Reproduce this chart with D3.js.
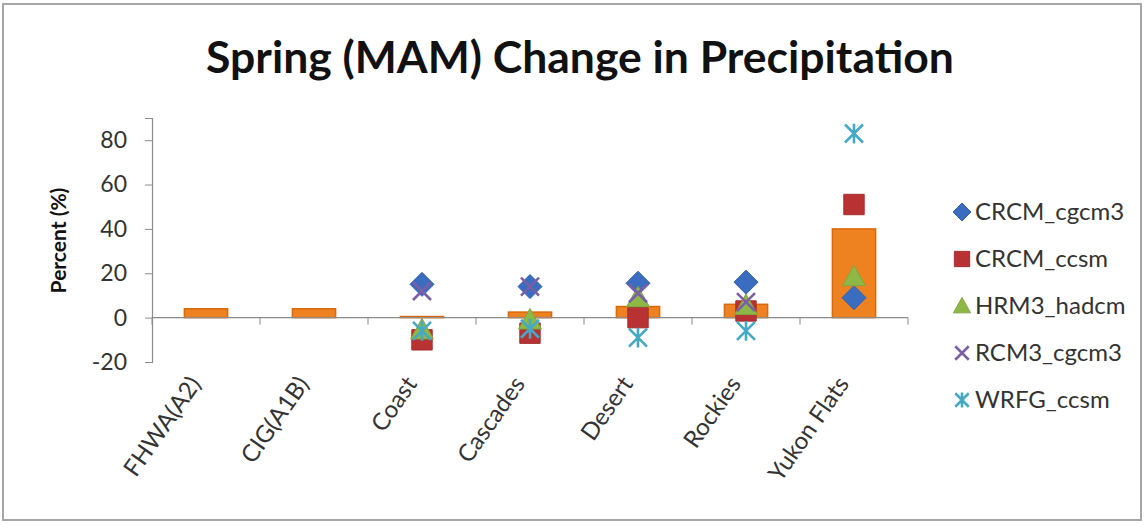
<!DOCTYPE html>
<html>
<head>
<meta charset="utf-8">
<script src="https://cdn.jsdelivr.net/npm/d3@7"></script>
<style>
  html, body { margin: 0; padding: 0; background: #fff; }
  svg { display: block; }
  text { font-family: Lato, "Open Sans", sans-serif; }
</style>
</head>
<body>
<svg id="chart" width="1146" height="525"></svg>
<script>
// ---------- data ----------
const categories = ["FHWA(A2)", "CIG(A1B)", "Coast", "Cascades", "Desert", "Rockies", "Yukon Flats"];
const barValues = [4, 4, 0.5, 2.5, 5, 6, 40];
const seriesNames = ["CRCM_cgcm3", "CRCM_ccsm", "HRM3_hadcm", "RCM3_cgcm3", "WRFG_ccsm"];
const crcmCgcm3 = [null, null, 15, 14, 15.5, 16, 9];
const crcmCcsm  = [null, null, -10, -7, 0, 3, 51];
const hrm3Hadcm = [null, null, -5.5, -1, 9, 5.5, 18.5];
const rcm3Cgcm3 = [null, null, 12, 14, 11, 7, null];
const wrfgCcsm  = [null, null, -6, -5, -9, -6, 83];
const yTicks = [-20, 0, 20, 40, 60, 80];
const yDomain = [-20, 90];
const titleText = "Spring (MAM) Change in Precipitation";
const yTitle = "Percent (%)";

const seriesValues = [crcmCgcm3, crcmCcsm, hrm3Hadcm, rcm3Cgcm3, wrfgCcsm];
const seriesColors = ["#3A6CC0", "#B83233", "#8DB846", "#7A5EA6", "#46A9C4"];
const seriesShapes = ["diamond", "square", "triangle", "x", "star"];

// ---------- layout ----------
const svg = d3.select("#chart");
const plot = { left: 152, right: 908, top: 118, bottom: 362 };

// outer frame
svg.append("rect").attr("x", 3).attr("y", 4).attr("width", 1138).attr("height", 516)
  .attr("fill", "#fff").attr("stroke", "#a6a6a6").attr("stroke-width", 2);

const x = d3.scaleBand().domain(categories).range([plot.left, plot.right]).padding(0);
const y = d3.scaleLinear().domain(yDomain).range([plot.bottom, plot.top]);

// title
const title = svg.append("text").attr("x", 580).attr("y", 73)
  .attr("text-anchor", "middle").attr("font-weight", 700).attr("fill", "#111")
  .attr("font-size", 42).text(titleText);
{
  const w = title.node().getComputedTextLength();
  title.attr("font-size", 42 * 748 / w);
}

// y axis
const yAxis = d3.axisLeft(y).tickValues(yTicks).tickSize(7).tickPadding(18)
  .tickFormat(d => String(d));
const gy = svg.append("g").attr("transform", `translate(${plot.left},0)`).call(yAxis);
gy.select(".domain").attr("stroke", "#8c8c8c").attr("stroke-width", 1.2);
gy.selectAll(".tick line").attr("stroke", "#8c8c8c");
gy.selectAll(".tick text").attr("font-size", 23).attr("fill", "#333")
  .style("font-family", "Lato, 'Open Sans', sans-serif");

// y title
svg.append("text").attr("transform", `translate(66,${(178 + 303) / 2}) rotate(-90)`)
  .attr("text-anchor", "middle").attr("font-weight", 700).attr("font-size", 21)
  .attr("fill", "#111").text(yTitle);

// bars
svg.append("g").selectAll("rect").data(categories).join("rect")
  .attr("x", d => x(d) + x.bandwidth() * 0.3)
  .attr("width", x.bandwidth() * 0.4)
  .attr("y", (d, i) => y(Math.max(0, barValues[i])))
  .attr("height", (d, i) => Math.abs(y(barValues[i]) - y(0)))
  .attr("fill", "#EF8220").attr("stroke", "#DA680C").attr("stroke-width", 1.5);

// x axis at zero
const gx = svg.append("g");
gx.append("line").attr("x1", plot.left).attr("x2", plot.right)
  .attr("y1", y(0)).attr("y2", y(0)).attr("stroke", "#8c8c8c").attr("stroke-width", 1.2);
const boundaries = categories.map(c => x(c)).concat([x(categories[categories.length - 1]) + x.bandwidth()]);
gx.selectAll("line.tk").data(boundaries).join("line").attr("class", "tk")
  .attr("x1", d => d).attr("x2", d => d)
  .attr("y1", y(0)).attr("y2", y(0) + 7).attr("stroke", "#8c8c8c");

// category labels
svg.append("g").selectAll("text").data(categories).join("text")
  .attr("transform", d => `translate(${x(d) + x.bandwidth() / 2 - 4},${plot.bottom + 22}) rotate(-55)`)
  .attr("text-anchor", "end").attr("font-size", 24).attr("fill", "#333").text(d => d);

// marker path generator
function markerPath(shape, s) {
  const p = d3.path();
  if (shape === "diamond") {
    p.moveTo(0, -s); p.lineTo(s, 0); p.lineTo(0, s); p.lineTo(-s, 0); p.closePath();
  } else if (shape === "square") {
    const h = s * 0.85;
    p.rect(-h, -h, 2 * h, 2 * h);
  } else if (shape === "triangle") {
    const h = s * 0.95;
    p.moveTo(0, -h); p.lineTo(h, h * 0.8); p.lineTo(-h, h * 0.8); p.closePath();
  } else if (shape === "x") {
    const h = s * 0.75;
    p.moveTo(-h, -h); p.lineTo(h, h); p.moveTo(h, -h); p.lineTo(-h, h);
  } else if (shape === "star") {
    const h = s * 0.75;
    p.moveTo(-h, -h); p.lineTo(h, h); p.moveTo(h, -h); p.lineTo(-h, h);
    p.moveTo(0, -h * 1.1); p.lineTo(0, h * 1.1);
  }
  return p.toString();
}
function styleMarker(sel, shape, color) {
  if (shape === "x" || shape === "star") {
    sel.attr("fill", "none").attr("stroke", color).attr("stroke-width", 2.6);
  } else {
    sel.attr("fill", color).attr("stroke", d3.color(color).darker(0.3)).attr("stroke-width", 1);
  }
}

// series markers
seriesValues.forEach((vals, si) => {
  const pts = categories.map((c, i) => ({ c, v: vals[i] })).filter(d => d.v !== null);
  const g = svg.append("g");
  const m = g.selectAll("path").data(pts).join("path")
    .attr("transform", d => `translate(${x(d.c) + x.bandwidth() / 2},${y(d.v)})`)
    .attr("d", markerPath(seriesShapes[si], 12));
  styleMarker(m, seriesShapes[si], seriesColors[si]);
});

// legend
const lg = svg.append("g");
seriesNames.forEach((name, i) => {
  const cy = 212 + i * 47;
  const m = lg.append("path").attr("transform", `translate(962,${cy})`)
    .attr("d", markerPath(seriesShapes[i], 9));
  styleMarker(m, seriesShapes[i], seriesColors[i]);
  lg.append("text").attr("x", 975).attr("y", cy + 8).attr("font-size", 24)
    .attr("fill", "#333").text(name);
});
</script>
</body>
</html>
